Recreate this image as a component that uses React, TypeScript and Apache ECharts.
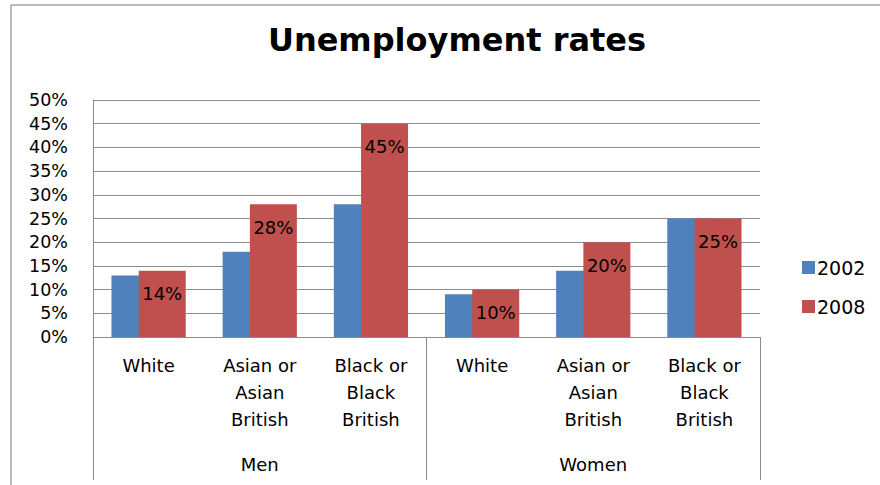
import React, { useEffect, useRef } from "react";
import * as echarts from "echarts";

const categories = [
  "White",
  "Asian or\nAsian\nBritish",
  "Black or\nBlack\nBritish",
  "White",
  "Asian or\nAsian\nBritish",
  "Black or\nBlack\nBritish",
];
const groups = ["Men", "Women"];
const seriesNames = ["2002", "2008"];
const values2002 = [13, 18, 28, 9, 14, 25];
const values2008 = [14, 28, 45, 10, 20, 25];
const yMin = 0;
const yMax = 50;
const yStep = 5;

const FONT = "DejaVu Sans";

export default function App() {
  const ref = useRef<HTMLDivElement>(null);
  useEffect(() => {
    if (!ref.current) return;
    const chart = echarts.init(ref.current, null, { renderer: "svg" });
    const gray = "#8c8c8c";
    chart.setOption({
      animation: false,
      backgroundColor: "#ffffff",
      textStyle: { fontFamily: FONT },
      title: {
        text: "Unemployment rates",
        left: 452,
        top: 19,
        textAlign: "center",
        textStyle: { fontFamily: FONT, fontSize: 32, fontWeight: "bold", color: "#000" },
      },
      legend: {
        orient: "vertical",
        left: 797,
        top: 253,
        itemWidth: 13,
        itemHeight: 13,
        itemGap: 20,
        icon: "rect",
        data: seriesNames,
        textStyle: { fontFamily: FONT, fontSize: 19, color: "#000", padding: [0, 0, 0, -3] },
      },
      grid: { left: 93, right: 120, top: 100, bottom: 148, containLabel: false },
      xAxis: [
        {
          type: "category",
          data: categories,
          axisLine: { show: true, lineStyle: { color: gray, width: 1 } },
          axisTick: { show: false },
          axisLabel: {
            interval: 0,
            margin: 15,
            fontFamily: FONT,
            fontSize: 18,
            lineHeight: 27,
            color: "#000",
            align: "center",
          },
        },
        {
          type: "category",
          data: groups,
          position: "bottom",
          axisLine: { show: false },
          axisTick: {
            show: true,
            interval: 0,
            length: 143,
            lineStyle: { color: gray, width: 1 },
          },
          axisLabel: {
            interval: 0,
            margin: 118,
            fontFamily: FONT,
            fontSize: 18,
            color: "#000",
          },
        },
      ],
      yAxis: {
        type: "value",
        min: yMin,
        max: yMax,
        interval: yStep,
        axisLine: { show: true, lineStyle: { color: gray, width: 1 } },
        axisTick: { show: false },
        splitLine: { show: true, lineStyle: { color: gray, width: 1 } },
        axisLabel: {
          formatter: "{value}%",
          margin: 25,
          fontFamily: FONT,
          fontSize: 17.5,
          color: "#000",
        },
      },
      series: [
        {
          name: seriesNames[0],
          type: "bar",
          data: values2002,
          barWidth: 47,
          barGap: "-42%",
          itemStyle: { color: "#4F81BD" },
        },
        {
          name: seriesNames[1],
          type: "bar",
          data: values2008,
          barWidth: 47,
          barGap: "-42%",
          itemStyle: { color: "#C0504D" },
          label: {
            show: true,
            position: "insideTop",
            distance: 14,
            formatter: "{c}%",
            fontFamily: FONT,
            fontSize: 18,
            color: "#000",
          },
        },
      ],
      graphic: [
        {
          type: "line",
          shape: { x1: 11, y1: 5, x2: 880, y2: 5 },
          style: { stroke: "#a6a6a6", lineWidth: 1.5 },
        },
        {
          type: "line",
          shape: { x1: 11, y1: 5, x2: 11, y2: 485 },
          style: { stroke: "#a6a6a6", lineWidth: 1.5 },
        },
      ],
    });
    return () => chart.dispose();
  }, []);
  return (
    <div
      ref={ref}
      style={{ position: "absolute", left: 0, top: 0, width: 880, height: 485 }}
    />
  );
}
